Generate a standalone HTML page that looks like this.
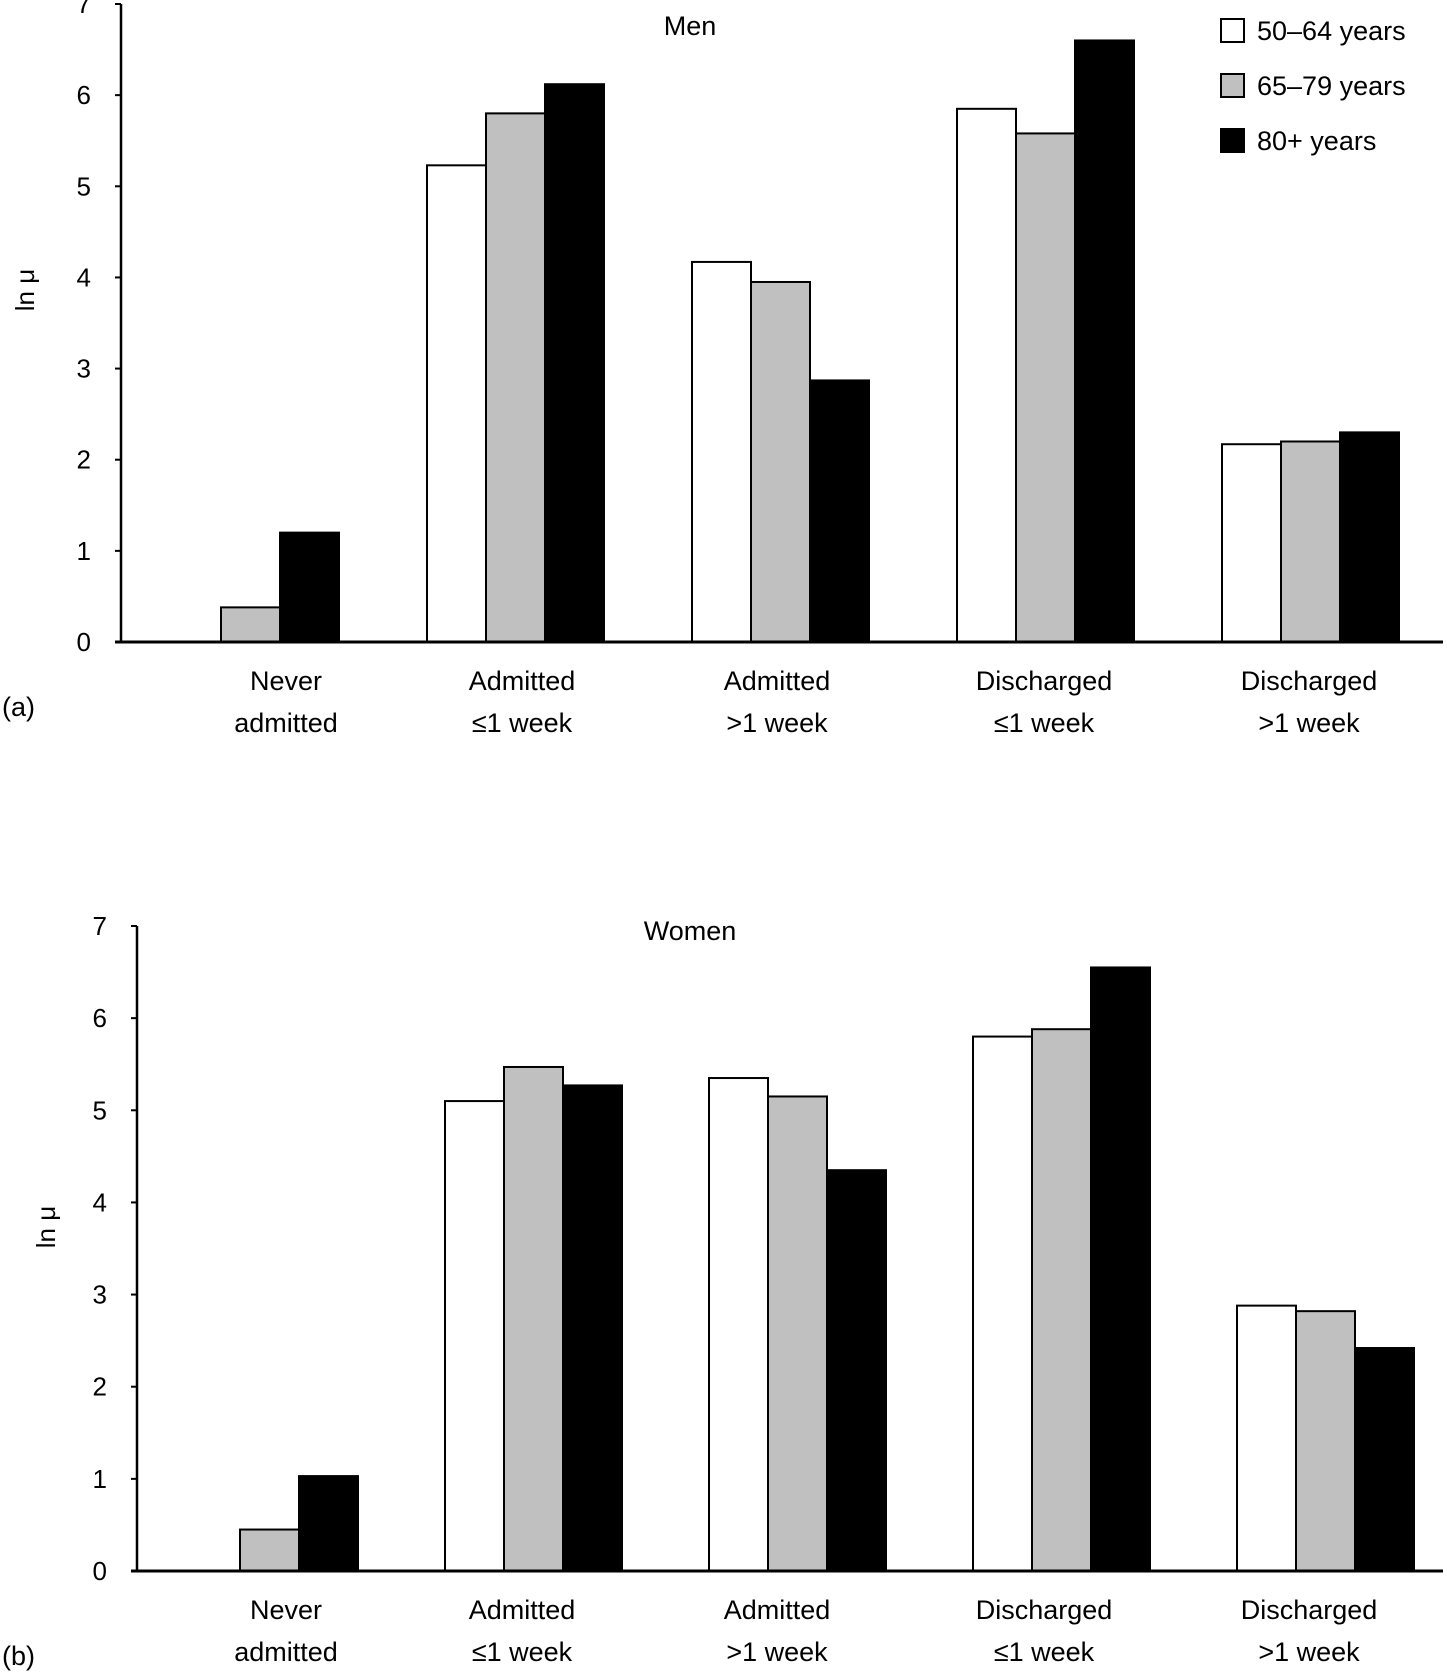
<!DOCTYPE html>
<html><head><meta charset="utf-8"><style>
html,body{margin:0;padding:0;background:#fff;}
svg{display:block;font-family:"Liberation Sans",sans-serif;}
</style></head><body>
<svg id="c" width="1447" height="1673" viewBox="0 0 1447 1673"></svg>
<script>
const categories1 = ["Never|admitted","Admitted|≤1 week","Admitted|>1 week","Discharged|≤1 week","Discharged|>1 week"];
const series = ["50–64 years","65–79 years","80+ years"];
const menA = [null,5.23,4.17,5.85,2.17];
const menB = [0.38,5.8,3.95,5.58,2.2];
const menC = [1.2,6.12,2.87,6.6,2.3];
const womenA = [null,5.1,5.35,5.8,2.88];
const womenB = [0.45,5.47,5.15,5.88,2.82];
const womenC = [1.03,5.27,4.35,6.55,2.42];
const yTicks = [0,1,2,3,4,5,6,7];
const fills = ["#fff","#c0c0c0","#000"];
const labelCenters = [286,522,777,1044,1309];
const NS="http://www.w3.org/2000/svg";
const svg=document.getElementById('c');
function mk(t,a,p){const e=document.createElementNS(NS,t);for(const k in a)e.setAttribute(k,a[k]);(p||svg).appendChild(e);return e;}
function panel(o){
  const g=mk('g',{});
  
  
  const y=v=>o.y0-(o.y0-o.y7)*v/7;
  const x=i=>o.x0+i*o.step;
  const bw=59;
  [o.A,o.B,o.C].forEach((arr,s)=>{
    arr.forEach((v,i)=>{
      if(v==null)return;
      const r=mk('rect',{x:x(i)+s*bw,y:y(v),width:bw,height:o.y0-y(v),fill:fills[s],stroke:'#000','stroke-width':2},g);
      
      
    });
  });
  const ya=mk('line',{x1:o.ax,y1:o.y7,x2:o.ax,y2:o.y0,stroke:'#000','stroke-width':2.5},g);
  
  const xa=mk('line',{x1:o.ax-6,y1:o.y0,x2:1443,y2:o.y0,stroke:'#000','stroke-width':3},g);
  
  yTicks.forEach(t=>{
    mk('line',{x1:o.ax-6,y1:y(t),x2:o.ax,y2:y(t),stroke:'#000','stroke-width':2},g);
    const tx=mk('text',{x:o.ax-30,y:y(t)+9,'font-size':26,'text-anchor':'end'},g);
    tx.textContent=t;
    
  });
  categories1.forEach((c,i)=>{
    const cx=labelCenters[i];
    c.split('|').forEach((ln,j)=>{
      const t=mk('text',{x:cx,y:o.y0+48+j*42,'font-size':27,'text-anchor':'middle'},g);
      t.textContent=ln;
      
    });
  });
  const yt=mk('text',{x:0,y:0,'font-size':26,'text-anchor':'middle',transform:`translate(${o.ylx},${o.yly}) rotate(-90)`},g);
  yt.textContent='ln μ';
  
  const ti=mk('text',{x:690,y:o.titleY,'font-size':27,'text-anchor':'middle'},g);
  ti.textContent=o.title;
  
  const pl=mk('text',{x:2,y:o.plY,'font-size':27},g);
  pl.textContent=o.plabel;
  
}
panel({name:'men-panel',tag:'men',A:menA,B:menB,C:menC,x0:162,step:265,y0:642,y7:4,ax:121,ylx:34,yly:290,title:'Men',titleY:35,plabel:'(a)',plY:716});
panel({name:'women-panel',tag:'women',A:womenA,B:womenB,C:womenC,x0:181,step:264,y0:1571,y7:926,ax:137,ylx:55,yly:1227,title:'Women',titleY:940,plabel:'(b)',plY:1665});
const lg=mk('g',{});

series.forEach((s,i)=>{
  const yy=19+i*55;
  const r=mk('rect',{x:1221,y:yy,width:23,height:23,fill:fills[i],stroke:'#000','stroke-width':2},lg);
  
  const t=mk('text',{x:1257,y:yy+21,'font-size':27},lg);
  t.textContent=s;
  
});
</script>
</body></html>
